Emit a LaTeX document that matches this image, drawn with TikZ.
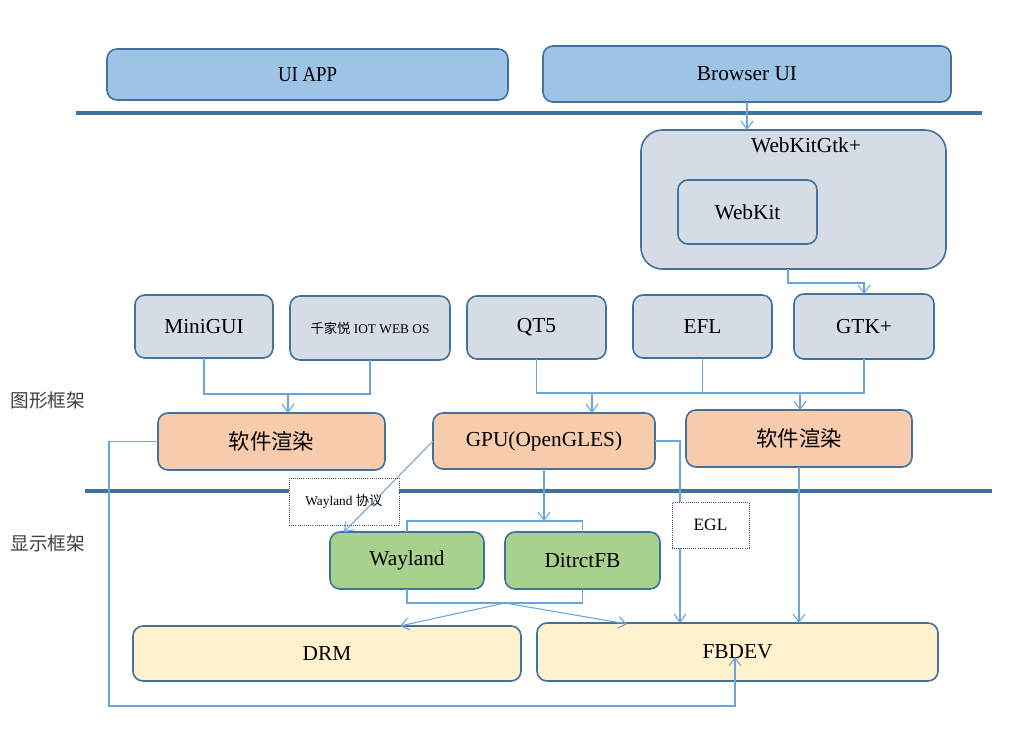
\documentclass[tikz,border=0pt]{standalone}
\usepackage{fontspec}
\setmainfont{Liberation Serif}
\newfontfamily\cjk{Noto Sans CJK SC}
\usetikzlibrary{arrows.meta,positioning}
\definecolor{edgeblue}{HTML}{41719C}
\definecolor{connblue}{HTML}{6AA5DC}
\definecolor{fblue}{HTML}{9DC3E6}
\definecolor{fgray}{HTML}{D6DCE5}
\definecolor{forange}{HTML}{F8CBAD}
\definecolor{fgreen}{HTML}{A9D18E}
\definecolor{fyellow}{HTML}{FFF2CC}
\definecolor{sidegray}{HTML}{404040}
\newcommand\bx[7]{\node[#6, minimum width={(#4-#2)*0.75pt}, minimum height={(#5-#3)*0.75pt}] (#1) at ({(#2+#4)/2},{(#3+#5)/2}) {#7};}
\tikzset{
  box/.style={draw=edgeblue, line width=1.2pt, rounded corners=7.5pt, inner sep=0pt, outer sep=0pt, font=\fontsize{16}{19}\selectfont},
  bluebox/.style={box, fill=fblue},
  graybox/.style={box, fill=fgray},
  orangebox/.style={box, fill=forange},
  greenbox/.style={box, fill=fgreen},
  yellowbox/.style={box, fill=fyellow},
  notebox/.style={draw=black!70, densely dotted, line width=0.6pt, fill=white, inner sep=0pt, outer sep=0pt},
  conn/.style={draw=connblue, line width=0.8pt},
  arr/.style={conn, -{Straight Barb[length=6pt,width=9pt,line width=0.8pt]}},
  sect/.style={draw=edgeblue, line width=2.4pt},
  side/.style={font=\cjk\fontsize{14}{16}\selectfont, text=sidegray}
}
\begin{document}
\begin{tikzpicture}[x=0.75pt,y=-0.75pt]
\useasboundingbox[fill=white] (0,0) rectangle (1029,738);
% section lines
\draw[sect] (76,113) -- (982,113);
\draw[sect] (85,491) -- (992,491);
% side labels
\node[side] (lab1) at (48,400) {图形框架};
\node[side] (lab2) at (48,543) {显示框架};
% top row
\bx{uiapp}{107}{49}{508}{100}{bluebox}{\scalebox{0.88}[1]{UI APP}}
\bx{browser}{543}{46}{951}{102}{bluebox}{Browser UI}
% webkitgtk
\bx{wkgtk}{641}{130}{946}{269}{graybox, rounded corners=16pt}{}
\node[font=\fontsize{16}{19}\selectfont] (wkgtkl) at (806,145) {WebKitGtk+};
\bx{webkit}{678}{180}{817}{244}{graybox}{WebKit}
% frameworks
\bx{minigui}{135}{295}{273}{358}{graybox}{MiniGUI}
\bx{iot}{290}{296}{450}{360}{graybox, font=\fontsize{10}{12}\selectfont}{{\cjk 千家悦} IOT WEB OS}
\bx{qt5}{467}{296}{606}{359}{graybox}{QT5}
\bx{efl}{633}{295}{772}{358}{graybox}{EFL}
\bx{gtk}{794}{294}{934}{359}{graybox}{GTK+}
% rendering
\bx{sw1}{158}{413}{385}{470}{orangebox}{\cjk 软件渲染}
\bx{gpu}{433}{413}{655}{469}{orangebox}{GPU(OpenGLES)}
\bx{sw2}{686}{410}{912}{467}{orangebox}{\cjk 软件渲染}
% display
\bx{wayland}{330}{532}{484}{589}{greenbox}{Wayland}
\bx{dfb}{505}{532}{660}{589}{greenbox}{DitrctFB}
\bx{drm}{133}{626}{521}{681}{yellowbox}{DRM}
\bx{fbdev}{537}{623}{938}{681}{yellowbox}{FBDEV}
% note boxes
\bx{wlp}{289}{478}{399}{525}{notebox, font=\fontsize{10}{12}\selectfont}{Wayland {\cjk 协议}}
% coordinates
\coordinate (a1) at (788,283);
\coordinate (j1) at (288,394);
\coordinate (j2) at (592,393);
\coordinate (j3) at (800,393);
\coordinate (c1) at (109,706);
\coordinate (f1) at (735,657);
\coordinate (w1) at (344,532);
\coordinate (b2) at (0,521);
\coordinate (b3) at (0,603);
\coordinate (apex) at (505,603);
\coordinate (t1) at (400,626);
\coordinate (t2) at (627,624);
\coordinate (e1) at (680,0);
% connectors
\draw[arr] (browser.south) -- (browser.south |- wkgtk.north);
\draw[arr] (a1 |- wkgtk.south) -- (a1) -| (gtk.north);
\draw[conn] (minigui.south) -- (minigui.south |- j1) -| (iot.south);
\draw[arr] (j1) -- (j1 |- sw1.north);
\draw[conn] (qt5.south) -- (qt5.south |- j2) -| (gtk.south);
\draw[conn] (efl.south) -- (efl.south |- j2);
\draw[arr] (j2) -- (j2 |- gpu.north);
\draw[arr] (j3) -- (j3 |- sw2.north);
\draw[arr] (sw1.west) -| (c1) -| (f1);
\draw[arr] (gpu.west) -- (w1);
\draw[conn] (wayland.north) -- (wayland.north |- b2) -| (dfb.north);
\draw[arr] (gpu.south) -- (gpu.south |- b2);
\draw[conn] (wayland.south) -- (wayland.south |- b3) -| (dfb.south);
\draw[arr] (apex) -- (t1);
\draw[arr] (apex) -- (t2);
\draw[arr] (gpu.east) -| (e1 |- fbdev.north);
\draw[arr] (sw2.south) -- (sw2.south |- fbdev.north);
% EGL note on top
\bx{egl}{672}{502}{749}{548}{notebox, font=\fontsize{13}{15}\selectfont}{EGL}
\end{tikzpicture}
\end{document}
